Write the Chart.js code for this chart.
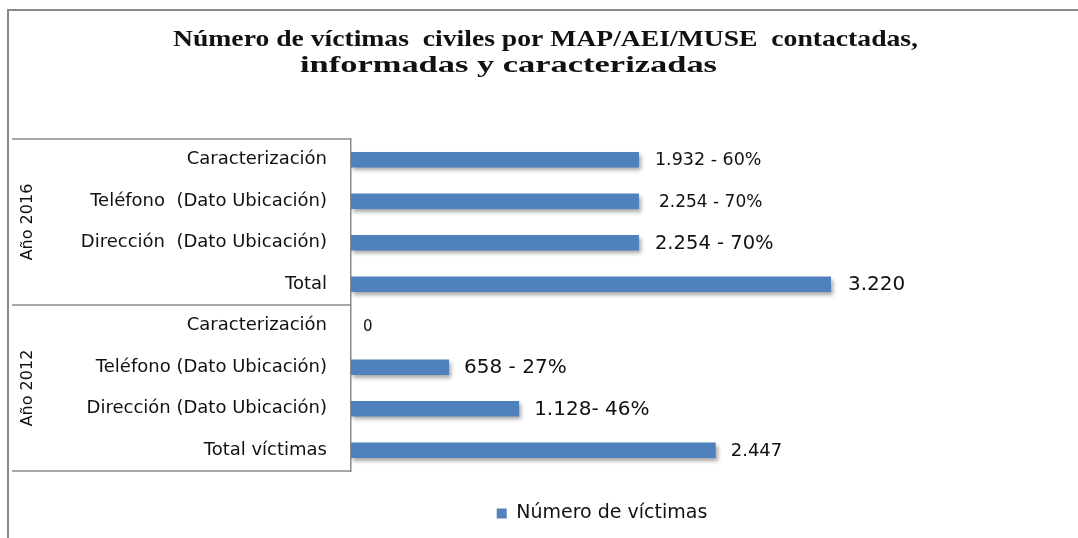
<!DOCTYPE html>
<html lang="es">
<head>
<meta charset="UTF-8">
<title>Número de víctimas civiles</title>
<script src="https://cdn.jsdelivr.net/npm/chart.js@4.4.1/dist/chart.umd.min.js"></script>
<style>
    html, body { margin: 0; padding: 0; background: #ffffff; }
    #wrap { width: 1078px; height: 538px; }
</style>
</head>
<body>
<div id="wrap"><canvas id="victimasChart" width="1078" height="538"></canvas></div>
<script>
// categorias (de arriba hacia abajo)
const categorias = [
    'Caracterización',
    'Teléfono  (Dato Ubicación)',
    'Dirección  (Dato Ubicación)',
    'Total',
    'Caracterización',
    'Teléfono (Dato Ubicación)',
    'Dirección (Dato Ubicación)',
    'Total víctimas'
];
// largo de las barras
const valores = [1932, 1932, 1932, 3220, 0, 658, 1128, 2447];
// etiquetas de datos tal como aparecen
const etiquetas = ['1.932 - 60%', '2.254 - 70%', '2.254 - 70%', '3.220', '0', '658 - 27%', '1.128- 46%', '2.447'];
const grupos = ['Año 2016', 'Año 2012'];
const serie = 'Número de víctimas';
const titulo = ['Número de víctimas  civiles por MAP/AEI/MUSE  contactadas,', 'informadas y caracterizadas'];

const GRIS = '#8a8a8a';
const AZUL = '#4F81BD';
// tamaño de letra de cada etiqueta
const tamEtiquetas = [17.5, 17, 19.5, 20, 15, 20, 20, 18];
// separacion entre barra y etiqueta
const sepEtiquetas = [16, 20, 16, 17, 12, 15, 15, 15];

// marco, lineas de grupo, titulo y etiquetas
const decoracion = {
    id: 'decoracion',
    beforeDraw(chart) {
        const ctx = chart.ctx;
        const area = chart.chartArea;
        const y = chart.scales.y;
        ctx.save();
        // marco exterior
        ctx.strokeStyle = GRIS;
        ctx.lineWidth = 2;
        ctx.beginPath();
        ctx.moveTo(8, 538);
        ctx.lineTo(8, 10);
        ctx.lineTo(1078, 10);
        ctx.stroke();

        // lineas horizontales de la tabla
        const medio = (y.getPixelForValue(3) + y.getPixelForValue(4)) / 2;
        ctx.lineWidth = 1.3;
        [area.top, medio, area.bottom].forEach(py => {
            ctx.beginPath();
            ctx.moveTo(12, py);
            ctx.lineTo(area.left, py);
            ctx.stroke();
        });

        // nombres de grupo girados
        ctx.fillStyle = '#111';
        ctx.font = '16px "DejaVu Sans"';
        ctx.textAlign = 'center';
        ctx.textBaseline = 'middle';
        [[area.top, medio], [medio, area.bottom]].forEach((r, i) => {
            ctx.save();
            ctx.translate(28, (r[0] + r[1]) / 2);
            ctx.rotate(-Math.PI / 2);
            ctx.fillText(grupos[i], 0, 0);
            ctx.restore();
        });

        // titulo (estirado como en el original)
        ctx.font = 'bold 24px "Liberation Serif"';
        ctx.textBaseline = 'alphabetic';
        const lineas = [{ cx: 545.5, base: 46, ancho: 745 }, { cx: 508.5, base: 72, ancho: 417 }];
        lineas.forEach((l, i) => {
            const w = ctx.measureText(titulo[i]).width;
            ctx.save();
            ctx.translate(l.cx, l.base);
            ctx.scale(l.ancho / w, 1);
            ctx.fillText(titulo[i], 0, 0);
            ctx.restore();
        });
        ctx.restore();
    },
    beforeDatasetsDraw(chart) {
        // sombra de las barras
        const ctx = chart.ctx;
        ctx.save();
        ctx.shadowColor = 'rgba(0, 0, 0, 0.35)';
        ctx.shadowOffsetX = 2;
        ctx.shadowOffsetY = 3;
        ctx.shadowBlur = 4;
    },
    afterDatasetsDraw(chart) {
        const ctx = chart.ctx;
        ctx.restore();
        ctx.save();
        ctx.fillStyle = '#111';
        ctx.textAlign = 'left';
        ctx.textBaseline = 'middle';
        chart.getDatasetMeta(0).data.forEach((bar, i) => {
            ctx.font = tamEtiquetas[i] + 'px "DejaVu Sans"';
            ctx.fillText(etiquetas[i], bar.x + sepEtiquetas[i], bar.y + 1);
        });
        ctx.restore();
    }
};

const ctx = document.getElementById('victimasChart').getContext('2d');
new Chart(ctx, {
    type: 'bar',
    data: {
        labels: categorias,
        datasets: [{
            label: serie,
            data: valores,
            backgroundColor: AZUL,
            barPercentage: 0.37,
            categoryPercentage: 1
        }]
    },
    options: {
        indexAxis: 'y',   // barras horizontales
        responsive: false,
        animation: false,
        layout: {
            padding: { top: 139, left: 12, right: 225, bottom: 5 }
        },
        scales: {
            x: {
                min: 0,
                max: 3368,
                grid: { display: false },
                border: { display: false },
                ticks: { display: false },
                afterFit: (scale) => { scale.height = 25; }
            },
            y: {
                grid: { display: false },
                border: { display: true, color: GRIS, width: 1.5 },
                ticks: {
                    color: '#111',
                    padding: 16,
                    font: { family: 'DejaVu Sans', size: 18 }
                },
                afterFit: (scale) => { scale.width = 339; }
            }
        },
        plugins: {
            legend: {
                position: 'bottom',
                fullSize: false,
                labels: {
                    boxWidth: 10,
                    boxHeight: 10,
                    padding: 8,
                    color: '#111',
                    font: { family: 'DejaVu Sans', size: 19 }
                }
            },
            tooltip: { enabled: false }
        }
    },
    plugins: [decoracion]
});
</script>
</body>
</html>
